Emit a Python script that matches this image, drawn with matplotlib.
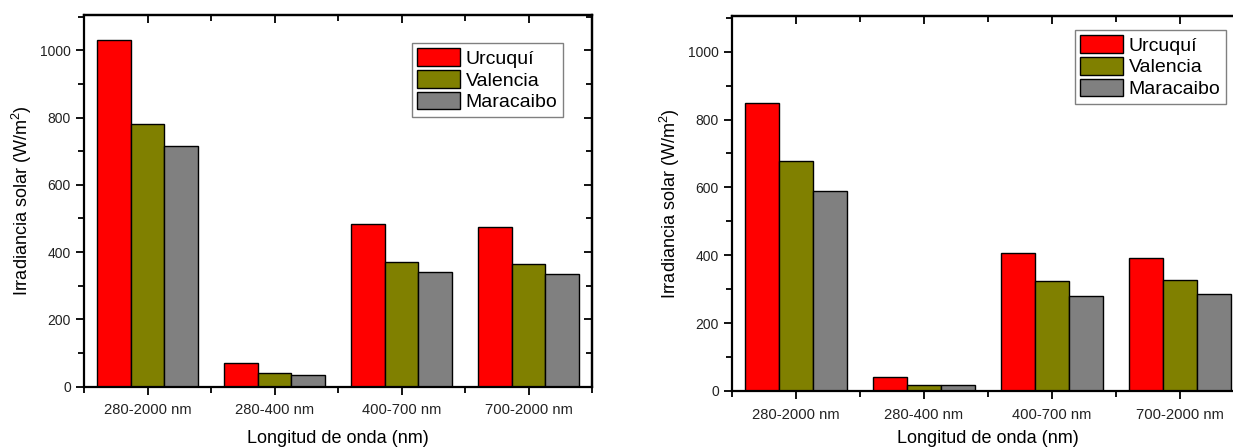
import matplotlib
matplotlib.use("Agg")
import matplotlib.pyplot as plt
import numpy as np
from matplotlib.ticker import MultipleLocator, FixedLocator

plt.rcParams['font.family'] = ['Liberation Sans', 'DejaVu Sans']
plt.rcParams['mathtext.fontset'] = 'custom'
plt.rcParams['mathtext.rm'] = 'Liberation Sans'
plt.rcParams['mathtext.it'] = 'Liberation Sans'

categories = ['280-2000 nm', '280-400 nm', '400-700 nm', '700-2000 nm']
series_names = ['Urcuquí', 'Valencia', 'Maracaibo']
colors = ['#ff0000', '#808000', '#808080']

left_urcuqui = [1031, 70, 482, 475]
left_valencia = [781, 40, 370, 364]
left_maracaibo = [716, 35, 340, 335]

right_urcuqui = [849, 42, 408, 393]
right_valencia = [677, 18, 324, 327]
right_maracaibo = [590, 19, 281, 286]

W, H = 1233, 448
fig = plt.figure(figsize=(W / 100, H / 100), dpi=100)

def make_panel(rect, data, legend_rect, xlabelpad):
    ax = fig.add_axes(rect)
    x = np.arange(len(categories))
    bw = 0.8 / 3
    for i, (vals, name, c) in enumerate(zip(data, series_names, colors)):
        ax.bar(x + (i - 1) * bw, vals, width=bw, color=c, edgecolor='black',
               linewidth=1.0, label=name)
    ax.set_xlim(-0.5, len(categories) - 0.5)
    ax.set_ylim(0, 1105)
    ax.set_xticks(x)
    ax.set_xticklabels(categories)
    ax.xaxis.set_minor_locator(FixedLocator(np.arange(-0.5, len(categories), 1.0)))
    ax.yaxis.set_major_locator(MultipleLocator(200))
    ax.yaxis.set_minor_locator(MultipleLocator(100))
    ax.tick_params(axis='both', which='major', direction='out', length=6, width=1.3,
                   labelsize=10, colors='black', labelcolor='#222222')
    ax.tick_params(axis='x', which='major', labelsize=10.6, pad=6)
    ax.tick_params(axis='both', which='minor', direction='out', length=4, width=1.3)
    for s in ax.spines.values():
        s.set_linewidth(1.6)
    # top and right with inward ticks
    sx = ax.secondary_xaxis('top')
    sx.set_xticks(x)
    sx.xaxis.set_minor_locator(FixedLocator(np.arange(-0.5, len(categories), 1.0)))
    sx.tick_params(which='major', direction='in', length=6, width=1.3, labeltop=False)
    sx.tick_params(which='minor', direction='in', length=4, width=1.3)
    sx.set_xticklabels([])
    sx.spines['top'].set_linewidth(1.6)
    sy = ax.secondary_yaxis('right')
    sy.yaxis.set_major_locator(MultipleLocator(200))
    sy.yaxis.set_minor_locator(MultipleLocator(100))
    sy.tick_params(which='major', direction='in', length=6, width=1.3, labelright=False)
    sy.tick_params(which='minor', direction='in', length=4, width=1.3)
    sy.spines['right'].set_linewidth(1.6)
    ax.set_xlabel('Longitud de onda (nm)', fontsize=13, labelpad=xlabelpad)
    ax.set_ylabel(r'Irradiancia solar (W/m$^{2}$)', fontsize=13, labelpad=4)
    leg = ax.legend(loc='upper right', bbox_to_anchor=legend_rect,
                    bbox_transform=fig.transFigure, borderaxespad=0,
                    fontsize=14, handlelength=2.2, handleheight=1.0,
                    labelspacing=0.12, handletextpad=0.3, borderpad=0.28,
                    fancybox=False, frameon=True, edgecolor='#606060')
    leg.get_frame().set_linewidth(1.0)
    for p in leg.get_patches():
        p.set_edgecolor('black')
    return ax

make_panel([84 / W, 1 - 386.5 / H, (592 - 84) / W, (386.5 - 15) / H],
           [left_urcuqui, left_valencia, left_maracaibo],
           (563 / W, 1 - 43 / H), 9)
make_panel([732 / W, 1 - 391 / H, 512 / W, (391 - 16) / H],
           [right_urcuqui, right_valencia, right_maracaibo],
           (1226 / W, 1 - 30 / H), 6)

fig.savefig('out.png', dpi=100)
